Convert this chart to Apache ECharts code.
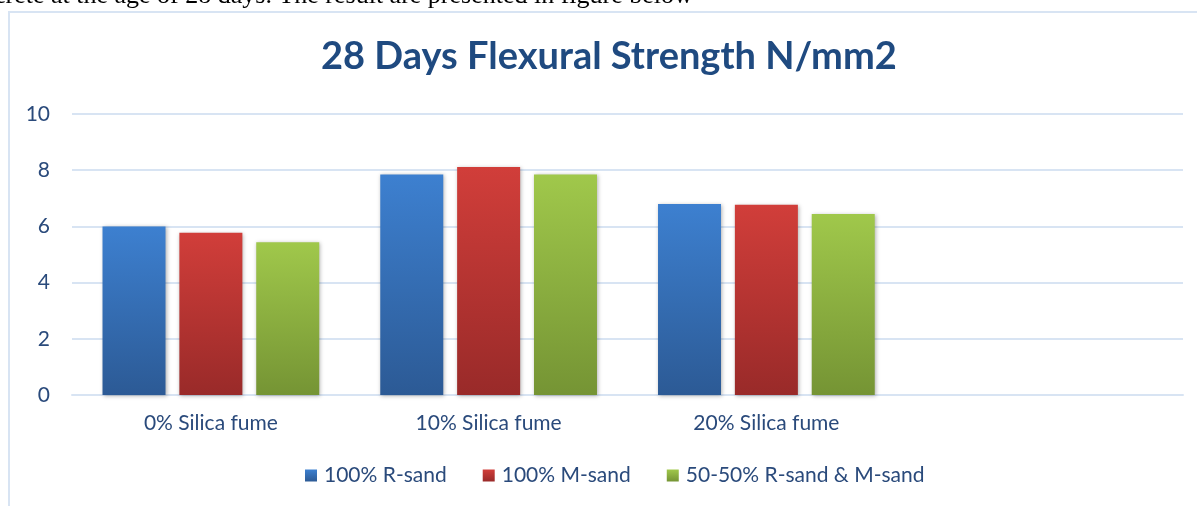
<!DOCTYPE html>
<html>
<head>
<meta charset="utf-8">
<script src="https://cdn.jsdelivr.net/npm/echarts@6/dist/echarts.min.js"></script>
<style>
  html, body { margin: 0; padding: 0; background: #fff; }
  #chart { width: 1197px; height: 506px; }
</style>
</head>
<body>
<div id="chart"></div>
<script>
const categories = ['0% Silica fume', '10% Silica fume', '20% Silica fume', ''];
const seriesNames = ['100% R-sand', '100% M-sand', '50-50% R-sand & M-sand'];
const rSand = [6.0, 7.85, 6.80, null];
const mSand = [5.77, 8.11, 6.77, null];
const mixSand = [5.44, 7.85, 6.44, null];

// top and bottom colours of each bar gradient
const colours = [
  ['#3d80d0', '#2c5a95'],
  ['#d13e3a', '#992a29'],
  ['#a0c84b', '#759434']
];

const textColour = '#2a4a7b';
const gridColour = '#d8e4f3';

function grad(c) {
  return new echarts.graphic.LinearGradient(0, 0, 0, 1, [
    { offset: 0, color: c[0] },
    { offset: 1, color: c[1] }
  ]);
}

const chart = echarts.init(document.getElementById('chart'));

const option = {
  backgroundColor: '#fff',
  animation: false,
  title: {
    text: '28 Days Flexural Strength N/mm2',
    left: 316,
    top: 33,
    textStyle: {
      fontFamily: 'Lato',
      fontWeight: 'bold',
      fontSize: 38,
      color: '#1f4a80'
    }
  },
  graphic: [
    {
      type: 'rect',
      shape: { x: 9, y: 12, width: 1300, height: 700 },
      style: { fill: 'none', stroke: gridColour, lineWidth: 2 },
      silent: true
    },
    {
      type: 'text',
      left: -6,
      top: -17,
      style: {
        text: 'crete at the age of 28 days. The result are presented in figure below',
        font: '26px "Liberation Serif"',
        fill: '#000'
      },
      silent: true
    }
  ],
  legend: {
    bottom: 15,
    left: 300,
    itemWidth: 12,
    itemHeight: 12,
    itemGap: 36,
    icon: 'rect',
    textStyle: { fontFamily: 'Lato', fontSize: 21, color: textColour, padding: [0, 0, 0, 2] },
    data: seriesNames
  },
  grid: {
    left: 72,
    right: 14,
    top: 114,
    bottom: 111,
    containLabel: false
  },
  xAxis: {
    type: 'category',
    data: categories,
    axisLine: { lineStyle: { color: gridColour, width: 2 } },
    axisTick: { show: false },
    axisLabel: { fontFamily: 'Lato', fontSize: 21, color: textColour, margin: 18 }
  },
  yAxis: {
    type: 'value',
    min: 0,
    max: 10,
    interval: 2,
    axisLine: { show: false },
    axisTick: { show: false },
    axisLabel: { fontFamily: 'Lato', fontSize: 21, color: textColour, margin: 22 },
    splitLine: { lineStyle: { color: gridColour, width: 2 } }
  },
  series: [rSand, mSand, mixSand].map((d, i) => ({
    name: seriesNames[i],
    type: 'bar',
    data: d,
    barWidth: 63,
    barGap: '22%',
    itemStyle: {
      color: grad(colours[i]),
      shadowColor: 'rgba(0,0,0,0.3)',
      shadowBlur: 4,
      shadowOffsetX: 1,
      shadowOffsetY: 1
    }
  }))
};

chart.setOption(option);
</script>
</body>
</html>
